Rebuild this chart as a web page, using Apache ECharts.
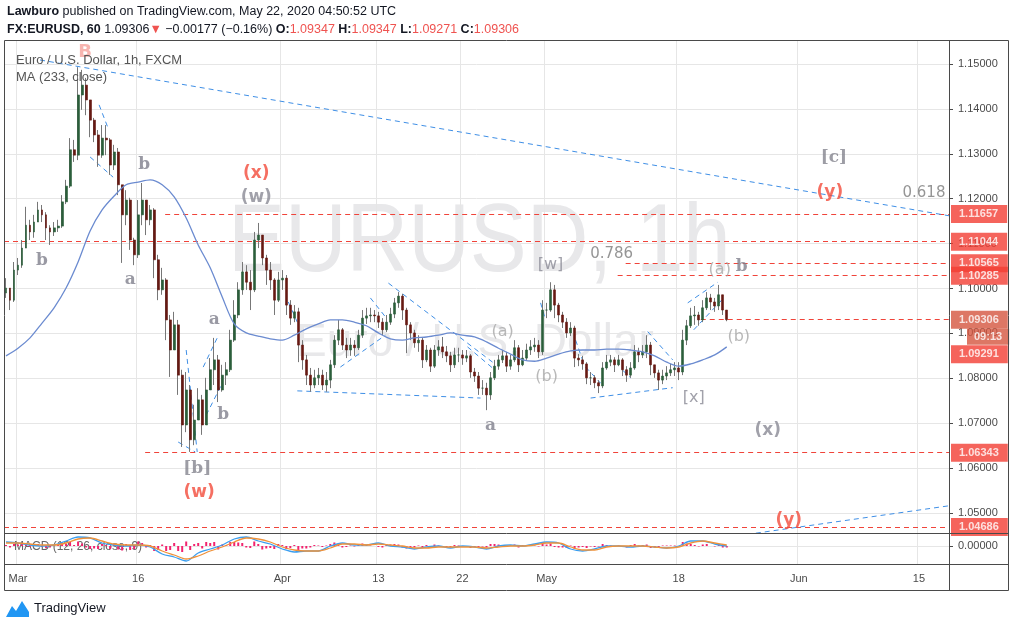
<!DOCTYPE html>
<html><head><meta charset="utf-8">
<script src="https://cdn.jsdelivr.net/npm/echarts@6/dist/echarts.min.js"></script>
<style>html,body{margin:0;padding:0;background:#fff}#c{width:1013px;height:628px}</style>
</head><body><div id="c"></div>
<script>
// ---------- data (8-hour bars) ----------
const firstOpen = 1.0990;
const closes = [
1.1001,1.0974,1.1041,1.1052,1.1090,1.1141,1.1126,1.1148,1.1175,1.1164,
1.1135,1.1126,1.1135,1.1139,1.1193,1.1228,1.1309,1.1297,1.1431,1.1453,
1.1420,1.1375,1.1342,1.1297,1.1335,1.1331,1.1275,1.1304,1.1231,1.1164,
1.1197,1.1108,1.1075,1.1164,1.1197,1.1153,1.1175,1.1064,1.0997,1.1019,
1.0930,1.0863,1.0919,1.0807,1.0696,1.0774,1.0663,1.0707,1.0752,1.0696,
1.0774,1.0819,1.0841,1.0774,1.0807,1.0819,1.0885,1.0941,1.0997,1.1037,
1.1014,1.0997,1.1108,1.1119,1.1068,1.1041,1.1019,1.0974,1.1019,1.1023,
1.0963,1.0934,1.0948,1.0874,1.0841,1.0807,1.0785,1.0801,1.0807,1.0785,
1.0796,1.0830,1.0885,1.0908,1.0874,1.0863,1.0874,1.0868,1.0896,1.0934,
1.0939,1.0941,1.0939,1.0925,1.0908,1.0925,1.0943,1.0968,1.0983,1.0952,
1.0919,1.0901,1.0879,1.0885,1.0841,1.0863,1.0827,1.0863,1.0870,1.0859,
1.0850,1.0830,1.0852,1.0852,1.0845,1.0850,1.0814,1.0805,1.0778,1.0778,
1.0763,1.0801,1.0827,1.0841,1.0850,1.0827,1.0841,1.0868,1.0830,1.0845,
1.0863,1.0870,1.0874,1.0859,1.0952,1.0952,1.0997,1.0963,1.0941,1.0925,
1.0901,1.0912,1.0845,1.0841,1.0832,1.0801,1.0801,1.0790,1.0783,1.0823,
1.0836,1.0841,1.0830,1.0841,1.0819,1.0807,1.0823,1.0859,1.0852,1.0859,
1.0874,1.0830,1.0812,1.0796,1.0805,1.0812,1.0819,1.0823,1.0814,1.0885,
1.0917,1.0939,1.0941,1.0930,1.0957,1.0979,1.0970,1.0961,1.0986,1.0952,1.09306];
const highs = [
1.1023,1.1001,1.1059,1.1068,1.1108,1.1182,1.1153,1.1164,1.1193,1.1186,
1.1170,1.1141,1.1148,1.1153,1.1208,1.1242,1.1335,1.1331,1.1493,1.1487,
1.1469,1.1420,1.1380,1.1353,1.1364,1.1364,1.1335,1.1320,1.1313,1.1231,
1.1219,1.1202,1.1113,1.1197,1.1235,1.1197,1.1186,1.1179,1.1075,1.1046,
1.1023,1.0941,1.0948,1.0930,1.0819,1.0814,1.0785,1.0741,1.0778,1.0763,
1.0801,1.0845,1.0890,1.0852,1.0830,1.0836,1.0908,1.0974,1.1014,1.1059,
1.1052,1.1041,1.1126,1.1146,1.1119,1.1075,1.1059,1.1023,1.1037,1.1041,
1.1030,1.0974,1.0963,1.0957,1.0885,1.0852,1.0823,1.0819,1.0823,1.0819,
1.0814,1.0841,1.0896,1.0930,1.0912,1.0890,1.0890,1.0885,1.0908,1.0952,
1.0957,1.0957,1.0952,1.0948,1.0934,1.0941,1.0957,1.0979,1.0992,1.0988,
1.0957,1.0925,1.0908,1.0896,1.0890,1.0874,1.0868,1.0874,1.0885,1.0892,
1.0872,1.0859,1.0868,1.0868,1.0863,1.0863,1.0854,1.0823,1.0814,1.0796,
1.0790,1.0814,1.0841,1.0852,1.0863,1.0859,1.0852,1.0885,1.0874,1.0863,
1.0877,1.0885,1.0890,1.0885,1.0974,1.0968,1.1014,1.1008,1.0968,1.0948,
1.0934,1.0925,1.0917,1.0854,1.0850,1.0836,1.0814,1.0807,1.0796,1.0836,
1.0852,1.0852,1.0847,1.0852,1.0845,1.0827,1.0836,1.0874,1.0868,1.0874,
1.0896,1.0881,1.0827,1.0819,1.0819,1.0827,1.0832,1.0836,1.0836,1.0908,
1.0930,1.0957,1.0961,1.0948,1.0974,1.0992,1.0988,1.0979,1.1008,1.0986,1.09347];
const lows = [
1.0979,1.0952,1.0970,1.1030,1.1046,1.1097,1.1108,1.1113,1.1148,1.1148,
1.1108,1.1097,1.1117,1.1126,1.1135,1.1188,1.1224,1.1282,1.1286,1.1398,
1.1386,1.1337,1.1326,1.1271,1.1291,1.1297,1.1253,1.1264,1.1208,1.1057,
1.1141,1.1086,1.1052,1.1068,1.1141,1.1119,1.1141,1.1023,1.0974,1.0986,
1.0885,1.0803,1.0863,1.0763,1.0647,1.0680,1.0636,1.0651,1.0707,1.0674,
1.0729,1.0774,1.0785,1.0747,1.0770,1.0785,1.0814,1.0881,1.0934,1.0986,
1.0997,1.0952,1.0992,1.1090,1.1052,1.1008,1.0997,1.0941,1.0970,1.0997,
1.0941,1.0919,1.0925,1.0836,1.0819,1.0785,1.0770,1.0778,1.0785,1.0774,
1.0770,1.0778,1.0823,1.0874,1.0863,1.0845,1.0850,1.0850,1.0863,1.0890,
1.0921,1.0925,1.0925,1.0912,1.0896,1.0903,1.0919,1.0934,1.0957,1.0930,
1.0856,1.0885,1.0868,1.0859,1.0823,1.0836,1.0814,1.0823,1.0850,1.0845,
1.0836,1.0814,1.0823,1.0836,1.0830,1.0836,1.0801,1.0792,1.0763,1.0763,
1.0729,1.0752,1.0796,1.0819,1.0834,1.0814,1.0819,1.0836,1.0814,1.0827,
1.0841,1.0852,1.0859,1.0845,1.0852,1.0934,1.0948,1.0934,1.0925,1.0912,
1.0890,1.0894,1.0825,1.0827,1.0819,1.0787,1.0785,1.0778,1.0767,1.0778,
1.0819,1.0827,1.0814,1.0827,1.0805,1.0792,1.0801,1.0819,1.0836,1.0845,
1.0845,1.0807,1.0801,1.0774,1.0787,1.0796,1.0805,1.0805,1.0796,1.0807,
1.0874,1.0912,1.0919,1.0917,1.0925,1.0952,1.0952,1.0948,1.0952,1.0941,1.09271];
// MA(233) value at the first bar of each trading day
const maValues = [
1.0850,1.0867,1.0890,1.0923,1.0957,1.1001,1.1059,1.1128,1.1175,1.1206,
1.1231,1.1237,1.1242,1.1231,1.1204,1.1157,1.1097,1.1046,1.0981,1.0921,
1.0901,1.0894,1.0888,1.0885,1.0896,1.0910,1.0921,1.0930,1.0930,1.0925,
1.0917,1.0901,1.0888,1.0885,1.0890,1.0892,1.0896,1.0901,1.0896,1.0892,
1.0881,1.0867,1.0854,1.0841,1.0838,1.0845,1.0854,1.0861,1.0863,1.0863,
1.0865,1.0865,1.0863,1.0859,1.0850,1.0836,1.0827,1.0832,1.0841,1.0852,1.0870];
// MACD (12,26,9) per trading day
const macdValues = [
0.0008,0.0006,0.0002,0,0.0002,0.0010,0.0018,0.0016,0.0006,0.0002,
0,0.0002,-0.0002,-0.0016,-0.0022,-0.0030,-0.0014,-0.0006,0.0002,0.0014,
0.0018,0.0010,0.0004,-0.0006,-0.0012,-0.0010,-0.0010,0,0.0006,0.0002,
0.0002,0.0006,0,-0.0002,-0.0006,-0.0002,0,-0.0004,0,-0.0002,
-0.0006,0,0.0002,0,0.0004,0.0008,0.0006,-0.0006,-0.0010,-0.0006,
0,0,-0.0002,0,-0.0002,-0.0004,0,0.0010,0.0010,0.0004,0];
const signalValues = [
0.0006,0.0006,0.0004,0.0002,0.0002,0.0006,0.0014,0.0016,0.0010,0.0004,
0.0002,0.0002,0,-0.0010,-0.0018,-0.0026,-0.0020,-0.0010,-0.0002,0.0008,
0.0016,0.0014,0.0008,-0.0002,-0.0008,-0.0010,-0.0010,-0.0004,0.0004,0.0004,
0.0002,0.0004,0.0002,0,-0.0004,-0.0004,-0.0002,-0.0002,-0.0002,-0.0002,
-0.0004,-0.0002,0,0,0.0002,0.0006,0.0006,-0.0002,-0.0008,-0.0008,
-0.0002,0,0,0,-0.0002,-0.0004,-0.0002,0.0006,0.0010,0.0006,0.0002];
// MACD histogram per bar
const histValues = [
0.0002,-0.0003,0.0004, 0.0003,0.0005,0.0006, -0.0002,0.0003,0.0004, -0.0002,-0.0004,-0.0003,
0.0001,0.0002,0.0006, 0.0005,0.0008,0.0002, 0.0009,0.0005,-0.0003, -0.0006,-0.0005,-0.0006,
0.0004,0.0002,-0.0006, 0.0003,-0.0007,-0.0009, 0.0004,-0.0008,-0.0006, 0.0009,0.0006,-0.0003,
0.0002,-0.0010,-0.0008, 0.0003,-0.0010,-0.0008, 0.0006,-0.0010,-0.0012, 0.0009,-0.0008,0.0004,
0.0006,-0.0005,0.0008, 0.0006,0.0008,-0.0007, 0.0003,0.0002,0.0008, 0.0008,0.0007,0.0006,
-0.0003,-0.0004,0.0009, 0.0004,-0.0007,-0.0005, -0.0004,-0.0006,0.0004, 0.0002,-0.0006,-0.0004,
0.0002,-0.0008,-0.0005, -0.0005,-0.0003,0.0002, 0.0001,-0.0002,0.0001, 0.0004,0.0007,0.0004,
-0.0003,-0.0002,0.0001, -0.0001,0.0003,0.0005, 0.0002,0.0001,0, -0.0002,-0.0003,0.0002,
0.0003,0.0004,0.0003, -0.0003,-0.0005,-0.0003, -0.0003,0.0001,-0.0004, 0.0002,-0.0003,0.0003,
0.0001,-0.0001,-0.0002, -0.0003,0.0002,0.0001, -0.0001,0,-0.0004, -0.0002,-0.0003,-0.0001,
-0.0003,0.0004,0.0004, 0.0003,0.0002,-0.0002, 0.0001,0.0003,-0.0003, 0.0002,0.0002,0.0001,
0.0001,-0.0001,0.0008, 0.0003,0.0005,-0.0002, -0.0003,-0.0003,-0.0004, 0.0001,-0.0006,-0.0003,
-0.0002,-0.0004,-0.0001, -0.0002,-0.0001,0.0004, 0.0002,0.0001,-0.0001, 0.0001,-0.0002,-0.0003,
0.0002,0.0004,0.0001, 0.0002,0.0003,-0.0004, -0.0003,-0.0003,0.0001, 0.0001,0.0001,0.0001,
-0.0001,0.0008,0.0005, 0.0004,0.0002,-0.0001, 0.0003,0.0004,0, -0.0001,0.0002,-0.0003, -0.0003];

const priceTicks = [1.05,1.06,1.07,1.08,1.09,1.10,1.11,1.12,1.13,1.14,1.15];
const tickLabels = ['Mar','16','Apr','13','22','May','18','Jun','15'];
const tickDates  = ['2020-03-02','2020-03-16','2020-04-01','2020-04-13','2020-04-22','2020-05-01','2020-05-18','2020-06-01','2020-06-15'];

// horizontal levels: price, first bar of the drawn line
const levelPrices = [1.11657,1.11044,1.10565,1.10285,1.09306,1.06343,1.04686];
const levelFrom   = [39.75,-0.5,154.75,152.75,173.5,34.75,-0.5];

// trend lines: [bar0, price0, bar1, price1]
const trendLines = [
 [8.5,1.1509,235.5,1.1162],
 [187.25,1.0455,235.5,1.0516],
 [23.25,1.1409,25.5,1.1357],
 [21,1.1293,26.75,1.1248],
 [45,1.0863,47.75,1.0636],
 [43,1.0658,47.25,1.0636],
 [49.25,1.0825,52.75,1.0890],
 [50,1.0718,54,1.0789],
 [72.75,1.0772,118.5,1.0756],
 [83.5,1.0825,94.75,1.0896],
 [95.5,1.1012,121.5,1.0836],
 [91,1.0979,95,1.0934],
 [115.25,1.0870,121.5,1.0823],
 [142.25,1.0885,144.25,1.0834],
 [144.75,1.0825,148.5,1.0789],
 [146,1.0756,166.5,1.0779],
 [160.25,1.0904,166.5,1.0841],
 [154,1.0818,156,1.0801],
 [170.25,1.0968,177.75,1.1014],
 [171.75,1.0908,179.25,1.0979],
 [133.5,1.0968,134.75,1.0930],
 [70.5,1.0970,72.75,1.0925]
];

// wave labels: text, bar, price, kind
const waveLabels = [
 ['B',19.75,1.1527,'peak'],
 ['b',9,1.1063,'minor'],
 ['a',31,1.1019,'minor'],
 ['b',34.5,1.1275,'minor'],
 ['(x)',62.5,1.1255,'red'],
 ['(w)',62.5,1.1202,'grayBold'],
 ['a',52,1.0930,'minor'],
 ['b',54.25,1.0720,'minor'],
 ['[b]',47.75,1.0600,'bracketBold'],
 ['(w)',48.25,1.0545,'red'],
 ['(a)',124,1.0904,'light'],
 ['(b)',135,1.0803,'light'],
 ['a',121,1.0694,'minor'],
 ['[w]',136,1.1052,'bracket'],
 ['0.786',151.25,1.1077,'fib'],
 ['(a)',178.25,1.1041,'light'],
 ['b',183.75,1.1048,'minor'],
 ['(b)',183,1.0892,'light'],
 ['[x]',171.75,1.0756,'bracket'],
 ['(x)',190.25,1.0683,'grayBold'],
 ['[c]',206.75,1.1291,'bracketBold'],
 ['(y)',205.75,1.1213,'red'],
 ['0.618',229.25,1.1213,'fib'],
 ['(y)',195.5,1.0482,'red']
];

// ---------- build ----------
const barsPerDay = 3, totalBars = 236;
const cats = [], dayStart = {};
for (let d = new Date(Date.UTC(2020,1,28)); cats.length < totalBars; d.setUTCDate(d.getUTCDate()+1)) {
  const wd = d.getUTCDay(); if (wd === 0 || wd === 6) continue;
  const s = d.toISOString().slice(0,10); dayStart[s] = cats.length;
  for (let k = 0; k < barsPerDay && cats.length < totalBars; k++) cats.push(s + ' ' + (k*8));
}
const tickAt = {}; tickDates.forEach((s,i) => { tickAt[dayStart[s]] = tickLabels[i]; });
const isTick = (i) => tickAt[i] !== undefined;

const ohlc = closes.map((c,i) => { const o = i ? closes[i-1] : firstOpen; return [o, c, Math.min(lows[i],o,c), Math.max(highs[i],o,c)]; });
const bodies = ohlc.map(([o,c]) => [o, c, Math.min(o,c), Math.max(o,c)]);

const styles = {
  peak:{color:'#f6a39c',fontSize:18,fontWeight:'bold',fontFamily:'DejaVu Sans'},
  minor:{color:'#7f7f8c',fontSize:17,fontWeight:'bold',fontFamily:'DejaVu Serif'},
  red:{color:'#f24b3b',fontSize:17,fontWeight:'bold',fontFamily:'DejaVu Sans'},
  grayBold:{color:'#8a8a95',fontSize:17,fontWeight:'bold',fontFamily:'DejaVu Sans'},
  bracketBold:{color:'#85858f',fontSize:17,fontWeight:'bold',fontFamily:'DejaVu Serif'},
  bracket:{color:'#8a8a95',fontSize:16,fontWeight:'normal',fontFamily:'DejaVu Sans'},
  light:{color:'#a8a8a8',fontSize:16,fontWeight:'normal',fontFamily:'DejaVu Sans'},
  fib:{color:'#7a7a7a',fontSize:15,fontWeight:'normal',fontFamily:'DejaVu Sans'}
};

const axisTxt = '#4a4a4a', gridCol = '#e6e6e6', frame = '#4a4a4a';
const tagRed = '#f33d33', tagCur = '#d4553f';
const tagData = levelPrices.map(p => ({value:[totalBars-0.5,p], label:{formatter:p.toFixed(5), backgroundColor: p===1.09306?tagCur:tagRed}}));
tagData.push({value:[totalBars-0.5,1.09306], label:{formatter:'09:13', backgroundColor:tagCur, offset:[16,17], padding:[3,7,2,7]}});
tagData.push({value:[totalBars-0.5,1.09291], label:{formatter:'1.09291', backgroundColor:tagRed, offset:[0,34]}});

const chart = echarts.init(document.getElementById('c'), null, {renderer:'canvas'});
chart.setOption({
  animation:false,
  backgroundColor:'#ffffff',
  grid:[
    {left:4, top:40, width:945, height:493},
    {left:4, top:533, width:945, height:31}
  ],
  xAxis:[
    {type:'category', gridIndex:0, data:cats, boundaryGap:true, axisLine:{show:false, onZero:false}, axisTick:{show:false}, axisLabel:{show:false},
     splitLine:{show:true, interval:(i)=>isTick(i), lineStyle:{color:gridCol}}},
    {type:'value', gridIndex:0, min:-0.5, max:totalBars-0.5, show:false, axisLine:{onZero:false}},
    {type:'category', gridIndex:1, data:cats, boundaryGap:true, position:'bottom', axisLine:{show:false, onZero:false}, axisTick:{show:false},
     axisLabel:{show:true, interval:(i)=>isTick(i), formatter:(v,i)=>tickAt[i]||'', color:axisTxt, fontSize:11, fontFamily:'Liberation Sans', margin:9},
     splitLine:{show:true, interval:(i)=>isTick(i), lineStyle:{color:gridCol}}},
    {type:'value', gridIndex:1, min:-0.5, max:totalBars-0.5, show:false, axisLine:{onZero:false}}
  ],
  yAxis:[
    {type:'value', gridIndex:0, position:'right', min:1.04554, max:1.15535, scale:true,
     axisLine:{show:false, onZero:false},
     axisTick:{show:true, customValues:priceTicks, length:4, lineStyle:{color:frame}},
     axisLabel:{show:true, customValues:priceTicks, formatter:(v)=>v.toFixed(5), color:axisTxt, fontSize:11, fontFamily:'Liberation Sans', margin:9},
     splitLine:{show:true, lineStyle:{color:gridCol}}},
    {type:'value', gridIndex:1, position:'right', min:-0.0036, max:0.0026,
     axisLine:{show:false, onZero:false},
     axisTick:{show:true, customValues:[0], length:4, lineStyle:{color:frame}},
     axisLabel:{show:true, customValues:[0], formatter:(v)=>v.toFixed(5), color:axisTxt, fontSize:11, fontFamily:'Liberation Sans', margin:9},
     splitLine:{show:true, lineStyle:{color:gridCol}}}
  ],
  graphic:[
    {type:'text', left:228, top:196, z:-10, silent:true, scaleX:0.88, style:{text:'EURUSD, 1h', fontSize:97, fontFamily:'Liberation Sans', fill:'#e8e8ea'}},
    {type:'text', left:296, top:320, z:-10, silent:true, style:{text:'Euro / U.S. Dollar', fontSize:46, fontFamily:'Liberation Sans', fill:'#e8e8ea'}},
    {type:'text', left:16, top:54, z:50, style:{text:'Euro / U.S. Dollar, 1h, FXCM', fontSize:13, fontFamily:'Liberation Sans', fill:'#555'}},
    {type:'text', left:16, top:71, z:50, style:{text:'MA (233, close)', fontSize:13, fontFamily:'Liberation Sans', fill:'#555'}},
    {type:'text', left:14, top:541, z:1, style:{text:'MACD (12, 26, close, 9)', fontSize:12, fontFamily:'Liberation Sans', fill:'#666'}},
    {type:'text', left:7, top:5, style:{text:'{b|Lawburo} published on TradingView.com, May 22, 2020 04:50:52 UTC', fontSize:12.5, fontFamily:'Liberation Sans', fill:'#131722',
      rich:{b:{fontWeight:'bold', fontSize:12.5, fontFamily:'Liberation Sans', fill:'#131722'}}}},
    {type:'text', left:7, top:23, style:{text:'{b|FX:EURUSD, 60} 1.09306{r|▼} \u22120.00177 (\u22120.16%) {b|O:}{r|1.09347} {b|H:}{r|1.09347} {b|L:}{r|1.09271} {b|C:}{r|1.09306}', fontSize:12.5, fontFamily:'Liberation Sans', fill:'#131722',
      rich:{b:{fontWeight:'bold', fontSize:12.5, fontFamily:'Liberation Sans', fill:'#131722'}, r:{fontSize:12.5, fontFamily:'Liberation Sans', fill:'#ef5350'}}}},
    {type:'rect', shape:{x:4.5, y:40.5, width:1004, height:550}, style:{fill:null, stroke:frame, lineWidth:1}, z:60},
    {type:'line', shape:{x1:4, y1:533.5, x2:1009, y2:533.5}, style:{stroke:frame, lineWidth:1}, z:60},
    {type:'line', shape:{x1:4, y1:564.5, x2:1009, y2:564.5}, style:{stroke:frame, lineWidth:1}, z:60},
    {type:'line', shape:{x1:949.5, y1:40, x2:949.5, y2:591}, style:{stroke:frame, lineWidth:1}, z:60},
    {type:'polygon', shape:{points:[[6,617],[12,606],[16,611],[22,601],[29,612],[29,617]]}, style:{fill:'#2196f3'}},
    {type:'text', left:34, top:602, style:{text:'TradingView', fontSize:13, fontFamily:'Liberation Sans', fill:'#131722'}}
  ],
  series:[
    {name:'wick', type:'candlestick', xAxisIndex:0, yAxisIndex:0, data:ohlc, barWidth:1, silent:true,
     itemStyle:{color:'#777777', color0:'#777777', borderColor:'#777777', borderColor0:'#777777', borderWidth:1}},
    {name:'body', type:'candlestick', xAxisIndex:0, yAxisIndex:0, data:bodies, barWidth:2.4, silent:true,
     itemStyle:{color:'#2b5e3b', color0:'#661912', borderColor:'#2b5e3b', borderColor0:'#661912', borderWidth:0.6}},
    {name:'MA', type:'line', xAxisIndex:1, yAxisIndex:0, data:maValues.map((v,k)=>[k*barsPerDay, v]), showSymbol:false, smooth:0.3,
     lineStyle:{color:'#6b8bd0', width:1.3}, silent:true},
    {name:'levels', type:'lines', coordinateSystem:'cartesian2d', xAxisIndex:1, yAxisIndex:0, silent:true,
     data:levelPrices.map((p,i)=>({coords:[[levelFrom[i],p],[totalBars-0.5,p]]})),
     lineStyle:{color:'#f0443a', width:1, type:[5,4], opacity:1}},
    {name:'trend', type:'lines', coordinateSystem:'cartesian2d', xAxisIndex:1, yAxisIndex:0, silent:true,
     data:trendLines.map(t=>({coords:[[t[0],t[1]],[t[2],t[3]]]})),
     lineStyle:{color:'#3f8fe6', width:1, type:[5,4], opacity:1}},
    {name:'waves', type:'scatter', xAxisIndex:1, yAxisIndex:0, symbolSize:0, silent:true, clip:false, z:10,
     data:waveLabels.map(w=>({value:[w[1],w[2]], label:Object.assign({show:true, position:'inside', formatter:w[0]}, styles[w[3]])}))},
    {name:'tags', type:'scatter', xAxisIndex:1, yAxisIndex:0, symbolSize:0, silent:true, clip:false, z:20,
     label:{show:true, position:'right', distance:2, color:'#fff', fontWeight:'bold', fontSize:11, fontFamily:'Liberation Sans', padding:[4,9,3,8]},
     data:tagData},
    {name:'MACD', type:'line', xAxisIndex:3, yAxisIndex:1, data:macdValues.map((v,k)=>[k*barsPerDay,v]), showSymbol:false, smooth:0.3,
     lineStyle:{color:'#3a9ef0', width:1.3}, silent:true},
    {name:'Signal', type:'line', xAxisIndex:3, yAxisIndex:1, data:signalValues.map((v,k)=>[k*barsPerDay,v]), showSymbol:false, smooth:0.3,
     lineStyle:{color:'#f0923a', width:1.3}, silent:true},
    {name:'Hist', type:'bar', xAxisIndex:2, yAxisIndex:1, data:histValues, barWidth:2, silent:true,
     itemStyle:{color:'#f2236e'}}
  ]
});
</script></body></html>
